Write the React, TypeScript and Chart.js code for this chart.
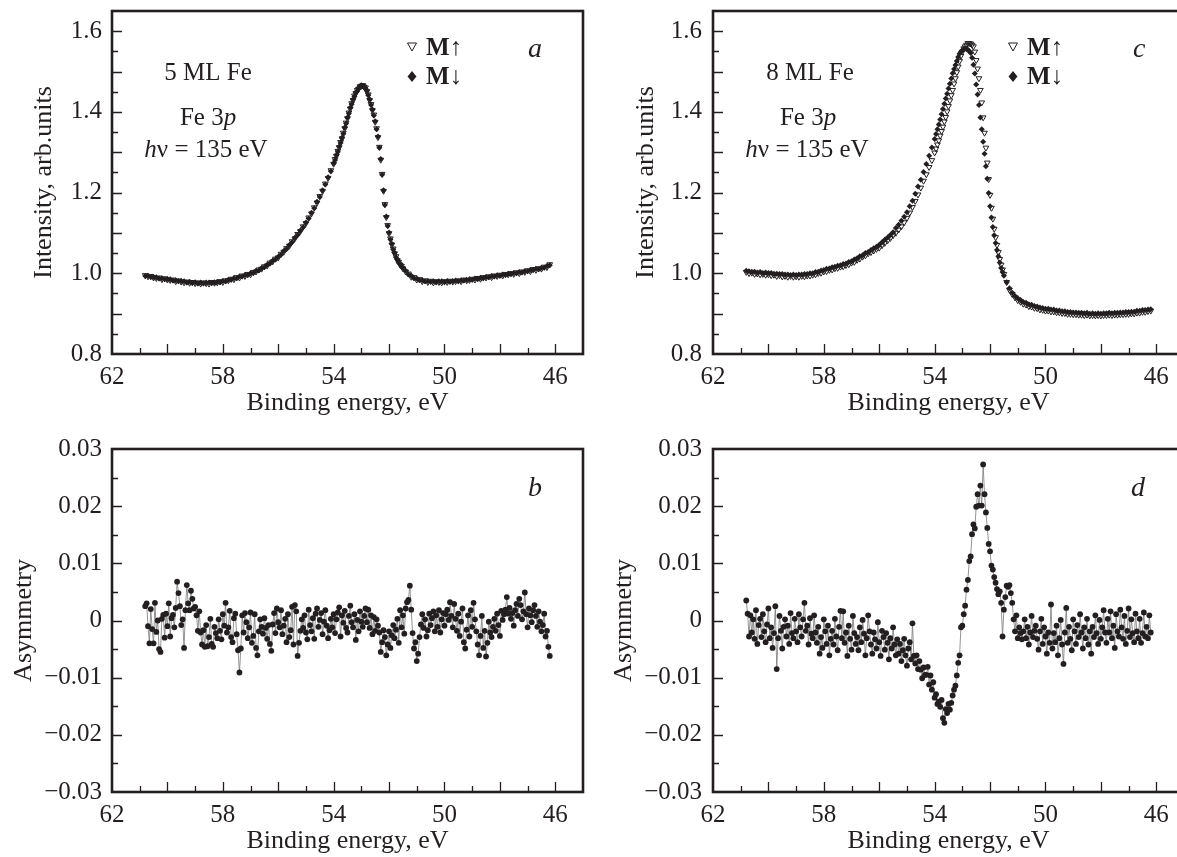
import { useEffect, useRef } from "react";
import { Chart, registerables } from "chart.js";

Chart.register(...registerables);

const INK = "#231f20";
const SERIF = '"Liberation Serif", "DejaVu Serif", serif';

// ---------- axes / ticks ----------
const X_LABELS = [62, 58, 54, 50, 46];
const X_MAJOR = [60, 58, 56, 54, 52, 50, 48, 46];
const X_MINOR = [61, 59, 57, 55, 53, 51, 49, 47];
const INT_LABELS = [0.8, 1.0, 1.2, 1.4, 1.6];
const INT_MAJOR = [0.9, 1.0, 1.1, 1.2, 1.3, 1.4, 1.5, 1.6];
const INT_MINOR = [0.85, 0.95, 1.05, 1.15, 1.25, 1.35, 1.45, 1.55];
const ASYM_LABELS = [-0.03, -0.02, -0.01, 0, 0.01, 0.02, 0.03];
const ASYM_MAJOR = [-0.02, -0.01, 0, 0.01, 0.02];
const ASYM_MINOR = [-0.025, -0.015, -0.005, 0.005, 0.015, 0.025];

// ---------- intensity panels (a, c) ----------
const E_TOP = [
  60.8, 60.7, 60.6, 60.5, 60.4, 60.3, 60.2, 60.1, 60.0, 59.9,
  59.8, 59.7, 59.6, 59.5, 59.4, 59.3, 59.2, 59.1, 59.0, 58.9,
  58.8, 58.7, 58.6, 58.5, 58.4, 58.3, 58.2, 58.1, 58.0, 57.9,
  57.8, 57.7, 57.6, 57.5, 57.4, 57.3, 57.2, 57.1, 57.0, 56.9,
  56.8, 56.7, 56.6, 56.5, 56.4, 56.3, 56.2, 56.1, 56.0, 55.9,
  55.8, 55.7, 55.6, 55.5, 55.4, 55.3, 55.2, 55.1, 55.0, 54.9,
  54.8, 54.7, 54.6, 54.5, 54.4, 54.3, 54.2, 54.1,
  54.0, 53.95, 53.9, 53.85, 53.8, 53.75, 53.7, 53.65, 53.6, 53.55,
  53.5, 53.45, 53.4, 53.35, 53.3, 53.25, 53.2, 53.15, 53.1, 53.05,
  53.0, 52.95, 52.9, 52.85, 52.8, 52.75, 52.7, 52.65, 52.6, 52.55,
  52.5, 52.45, 52.4, 52.35, 52.3, 52.25, 52.2, 52.15, 52.1, 52.05,
  52.0, 51.95, 51.9, 51.85, 51.8, 51.75, 51.7, 51.65, 51.6, 51.55,
  51.5,
  51.4, 51.3, 51.2, 51.1, 51.0, 50.9, 50.8, 50.7, 50.6, 50.5,
  50.4, 50.3, 50.2, 50.1, 50.0, 49.9, 49.8, 49.7, 49.6, 49.5,
  49.4, 49.3, 49.2, 49.1, 49.0, 48.9, 48.8, 48.7, 48.6, 48.5,
  48.4, 48.3, 48.2, 48.1, 48.0, 47.9, 47.8, 47.7, 47.6, 47.5,
  47.4, 47.3, 47.2, 47.1, 47.0, 46.9, 46.8, 46.7, 46.6, 46.5,
  46.4, 46.3, 46.2,
];

const A_UP = [
  0.995, 0.992, 0.993, 0.989, 0.988, 0.989, 0.985, 0.987, 0.984, 0.983,
  0.984, 0.980, 0.982, 0.979, 0.977, 0.979, 0.976, 0.978, 0.975, 0.977,
  0.974, 0.977, 0.975, 0.974, 0.978, 0.976, 0.977, 0.980, 0.978, 0.982,
  0.982, 0.986, 0.985, 0.990, 0.989, 0.994, 0.993, 0.998, 0.997, 1.003,
  1.004, 1.009, 1.011, 1.017, 1.019, 1.026, 1.029, 1.036, 1.039, 1.048,
  1.053, 1.062, 1.068, 1.079, 1.086, 1.097, 1.104, 1.116, 1.124, 1.138,
  1.148, 1.163, 1.175, 1.191, 1.204, 1.222, 1.236, 1.255,
  1.271, 1.283, 1.291, 1.303, 1.312, 1.325, 1.334, 1.348, 1.359, 1.373,
  1.384, 1.398, 1.408, 1.421, 1.429, 1.440, 1.446, 1.454, 1.457, 1.463,
  1.464, 1.466, 1.462, 1.460, 1.451, 1.443, 1.429, 1.419, 1.404, 1.393,
  1.375, 1.359, 1.337, 1.313, 1.281, 1.246, 1.204, 1.171, 1.139, 1.119,
  1.099, 1.086, 1.071, 1.061, 1.049, 1.042, 1.032, 1.028, 1.021, 1.018,
  1.012,
  1.004, 0.999, 0.991, 0.990, 0.984, 0.985, 0.980, 0.982, 0.978, 0.981,
  0.977, 0.980, 0.978, 0.977, 0.980, 0.978, 0.981, 0.979, 0.980, 0.982,
  0.980, 0.984, 0.982, 0.983, 0.986, 0.984, 0.988, 0.986, 0.990, 0.989,
  0.992, 0.990, 0.994, 0.993, 0.996, 0.994, 0.998, 0.997, 1.000, 0.998,
  1.002, 1.000, 1.004, 1.003, 1.007, 1.005, 1.010, 1.008, 1.012, 1.011,
  1.016, 1.015, 1.022,
];

const A_DN = [
  0.993, 0.994, 0.991, 0.991, 0.990, 0.987, 0.988, 0.985, 0.986, 0.985,
  0.982, 0.983, 0.980, 0.981, 0.980, 0.977, 0.979, 0.976, 0.978, 0.975,
  0.977, 0.975, 0.977, 0.977, 0.976, 0.978, 0.979, 0.978, 0.981, 0.980,
  0.984, 0.984, 0.988, 0.988, 0.992, 0.992, 0.996, 0.996, 1.000, 1.001,
  1.006, 1.007, 1.013, 1.015, 1.021, 1.024, 1.031, 1.034, 1.041, 1.046,
  1.055, 1.060, 1.070, 1.077, 1.088, 1.095, 1.106, 1.114, 1.126, 1.136,
  1.150, 1.161, 1.177, 1.189, 1.206, 1.220, 1.238, 1.253,
  1.273, 1.281, 1.293, 1.301, 1.314, 1.323, 1.336, 1.346, 1.361, 1.371,
  1.386, 1.396, 1.410, 1.419, 1.431, 1.438, 1.448, 1.452, 1.459, 1.461,
  1.466, 1.464, 1.464, 1.458, 1.453, 1.441, 1.431, 1.417, 1.406, 1.391,
  1.377, 1.357, 1.339, 1.311, 1.283, 1.244, 1.206, 1.169, 1.141, 1.117,
  1.101, 1.084, 1.073, 1.059, 1.051, 1.040, 1.034, 1.026, 1.023, 1.016,
  1.014,
  1.006, 0.997, 0.994, 0.988, 0.987, 0.983, 0.983, 0.980, 0.981, 0.979,
  0.980, 0.978, 0.980, 0.980, 0.978, 0.981, 0.979, 0.981, 0.982, 0.980,
  0.983, 0.982, 0.984, 0.985, 0.984, 0.987, 0.986, 0.989, 0.988, 0.991,
  0.990, 0.993, 0.992, 0.995, 0.994, 0.997, 0.996, 0.999, 0.998, 1.001,
  1.000, 1.003, 1.002, 1.005, 1.005, 1.008, 1.008, 1.011, 1.010, 1.014,
  1.014, 1.018, 1.020,
];

const C_UP = [
  1.003, 1.000, 1.001, 0.998, 0.999, 0.997, 0.998, 0.996, 0.997, 0.995,
  0.996, 0.993, 0.995, 0.992, 0.993, 0.991, 0.993, 0.991, 0.992, 0.991,
  0.993, 0.992, 0.994, 0.994, 0.996, 0.997, 1.000, 1.001, 1.004, 1.005,
  1.008, 1.009, 1.012, 1.013, 1.016, 1.017, 1.020, 1.022, 1.026, 1.028,
  1.033, 1.036, 1.041, 1.044, 1.049, 1.052, 1.056, 1.060, 1.063, 1.069,
  1.075, 1.081, 1.087, 1.094, 1.100, 1.108, 1.116, 1.126, 1.137, 1.150,
  1.164, 1.179, 1.195, 1.212, 1.229, 1.245, 1.263, 1.280,
  1.299, 1.309, 1.319, 1.329, 1.341, 1.352, 1.363, 1.376, 1.387, 1.401,
  1.414, 1.428, 1.441, 1.454, 1.470, 1.483, 1.498, 1.512, 1.526, 1.539,
  1.549, 1.557, 1.562, 1.566, 1.570, 1.570, 1.569, 1.566, 1.562, 1.549,
  1.528, 1.507, 1.483, 1.454, 1.423, 1.386, 1.348, 1.311, 1.274, 1.233,
  1.194, 1.162, 1.135, 1.110, 1.089, 1.070, 1.052, 1.035, 1.021, 1.009,
  0.998,
  0.978, 0.959, 0.948, 0.940, 0.933, 0.929, 0.924, 0.922, 0.918, 0.917,
  0.914, 0.913, 0.910, 0.909, 0.907, 0.907, 0.905, 0.905, 0.903, 0.903,
  0.901, 0.901, 0.899, 0.899, 0.898, 0.898, 0.897, 0.897, 0.896, 0.897,
  0.895, 0.896, 0.895, 0.896, 0.895, 0.896, 0.896, 0.897, 0.896, 0.897,
  0.897, 0.898, 0.898, 0.899, 0.899, 0.900, 0.900, 0.902, 0.902, 0.904,
  0.904, 0.906, 0.907,
];

const C_DN = [
  1.006, 1.005, 1.004, 1.004, 1.002, 1.003, 1.001, 1.002, 1.001, 1.001,
  0.999, 0.999, 0.998, 0.998, 0.997, 0.997, 0.996, 0.997, 0.996, 0.997,
  0.997, 0.998, 0.998, 1.000, 1.000, 1.003, 1.004, 1.007, 1.008, 1.011,
  1.012, 1.015, 1.016, 1.019, 1.020, 1.023, 1.024, 1.028, 1.030, 1.034,
  1.037, 1.042, 1.045, 1.050, 1.053, 1.058, 1.062, 1.066, 1.071, 1.077,
  1.083, 1.089, 1.095, 1.102, 1.112, 1.120, 1.130, 1.140, 1.151, 1.166,
  1.180, 1.197, 1.215, 1.232, 1.251, 1.271, 1.291, 1.312,
  1.333, 1.345, 1.357, 1.369, 1.381, 1.394, 1.407, 1.420, 1.433, 1.445,
  1.458, 1.470, 1.483, 1.496, 1.506, 1.516, 1.526, 1.536, 1.544, 1.549,
  1.553, 1.556, 1.557, 1.556, 1.554, 1.550, 1.546, 1.534, 1.517, 1.495,
  1.468, 1.443, 1.417, 1.386, 1.357, 1.326, 1.296, 1.265, 1.234, 1.199,
  1.166, 1.138, 1.115, 1.094, 1.075, 1.058, 1.042, 1.027, 1.013, 1.003,
  0.994,
  0.978, 0.963, 0.952, 0.944, 0.938, 0.934, 0.929, 0.927, 0.923, 0.922,
  0.919, 0.918, 0.915, 0.914, 0.912, 0.912, 0.910, 0.910, 0.908, 0.908,
  0.906, 0.906, 0.904, 0.904, 0.903, 0.903, 0.902, 0.902, 0.901, 0.902,
  0.900, 0.901, 0.900, 0.901, 0.900, 0.901, 0.901, 0.902, 0.901, 0.902,
  0.902, 0.903, 0.903, 0.904, 0.904, 0.905, 0.905, 0.907, 0.907, 0.909,
  0.909, 0.910, 0.911,
];

// ---------- asymmetry panels (b, d) ----------
const E_ASYM = [
  60.8, 60.75, 60.7, 60.65, 60.6, 60.55, 60.5, 60.45, 60.4, 60.35,
  60.3, 60.25, 60.2, 60.15, 60.1, 60.05, 60.0, 59.95, 59.9, 59.85,
  59.8, 59.75, 59.7, 59.65, 59.6, 59.55, 59.5, 59.45, 59.4, 59.35,
  59.3, 59.25, 59.2, 59.15, 59.1, 59.05, 59.0, 58.95, 58.9, 58.85,
  58.8, 58.75, 58.7, 58.65, 58.6, 58.55, 58.5, 58.45, 58.4, 58.35,
  58.3, 58.25, 58.2, 58.15, 58.1, 58.05, 58.0, 57.95, 57.9, 57.85,
  57.8, 57.75, 57.7, 57.65, 57.6, 57.55, 57.5, 57.45, 57.4, 57.35,
  57.3, 57.25, 57.2, 57.15, 57.1, 57.05, 57.0, 56.95, 56.9, 56.85,
  56.8, 56.75, 56.7, 56.65, 56.6, 56.55, 56.5, 56.45, 56.4, 56.35,
  56.3, 56.25, 56.2, 56.15, 56.1, 56.05, 56.0, 55.95, 55.9, 55.85,
  55.8, 55.75, 55.7, 55.65, 55.6, 55.55, 55.5, 55.45, 55.4, 55.35,
  55.3, 55.25, 55.2, 55.15, 55.1, 55.05, 55.0, 54.95, 54.9, 54.85,
  54.8, 54.75, 54.7, 54.65, 54.6, 54.55, 54.5, 54.45, 54.4, 54.35,
  54.3, 54.25, 54.2, 54.15, 54.1, 54.05, 54.0, 53.95, 53.9, 53.85,
  53.8, 53.75, 53.7, 53.65, 53.6, 53.55, 53.5, 53.45, 53.4, 53.35,
  53.3, 53.25, 53.2, 53.15, 53.1, 53.05, 53.0, 52.95, 52.9, 52.85,
  52.8, 52.75, 52.7, 52.65, 52.6, 52.55, 52.5, 52.45, 52.4, 52.35,
  52.3, 52.25, 52.2, 52.15, 52.1, 52.05, 52.0, 51.95, 51.9, 51.85,
  51.8, 51.75, 51.7, 51.65, 51.6, 51.55, 51.5, 51.45, 51.4, 51.35,
  51.3, 51.25, 51.2, 51.15, 51.1, 51.05, 51.0, 50.95, 50.9, 50.85,
  50.8, 50.75, 50.7, 50.65, 50.6, 50.55, 50.5, 50.45, 50.4, 50.35,
  50.3, 50.25, 50.2, 50.15, 50.1, 50.05, 50.0, 49.95, 49.9, 49.85,
  49.8, 49.75, 49.7, 49.65, 49.6, 49.55, 49.5, 49.45, 49.4, 49.35,
  49.3, 49.25, 49.2, 49.15, 49.1, 49.05, 49.0, 48.95, 48.9, 48.85,
  48.8, 48.75, 48.7, 48.65, 48.6, 48.55, 48.5, 48.45, 48.4, 48.35,
  48.3, 48.25, 48.2, 48.15, 48.1, 48.05, 48.0, 47.95, 47.9, 47.85,
  47.8, 47.75, 47.7, 47.65, 47.6, 47.55, 47.5, 47.45, 47.4, 47.35,
  47.3, 47.25, 47.2, 47.15, 47.1, 47.05, 47.0, 46.95, 46.9, 46.85,
  46.8, 46.75, 46.7, 46.65, 46.6, 46.55, 46.5, 46.45, 46.4, 46.35,
  46.3, 46.25, 46.2,
];

const B_ASYM = [
  0.0025, 0.003, -0.001, -0.004, 0.002, -0.0015, -0.004, 0.0031, -0.002, 0.0,
  -0.005, -0.0055, 0.0003, 0.001, -0.003, 0.0012, -0.001, 0.003, -0.0028, 0.0004,
  0.001, -0.0012, 0.0022, 0.0068, 0.0048, 0.0025, -0.0008, 0.0002, -0.0048, 0.0018,
  0.0062, 0.003, 0.0018, 0.0052, 0.0038, 0.0021, 0.0024, 0.0009, -0.0018, 0.0016,
  -0.0021, -0.0042, -0.0017, -0.0046, -0.0008, -0.0045, -0.0029, 0.0003, -0.0041, -0.0046,
  -0.0011, -0.0022, -0.0031, 0.0002, -0.0018, -0.0033, 0.0011, -0.0009, 0.0031, -0.0021,
  -0.0012, 0.0017, -0.0029, -0.0038, 0.0004, 0.0012, -0.0024, -0.0052, -0.0091, -0.0049,
  0.0009, -0.0021, 0.0013, -0.0003, -0.0031, -0.0012, 0.0014, -0.0039, -0.0027, 0.0011,
  -0.0048, -0.0061, -0.0019, 0.0002, -0.0011, -0.0023, 0.0004, -0.0013, -0.0032, -0.0008,
  -0.0041, -0.0053, -0.0007, 0.0013, -0.0022, 0.0021, -0.0003, -0.0012, 0.0018, -0.0024,
  -0.0009, 0.0003, -0.0038, 0.0011, -0.0029, -0.0017, 0.0024, -0.0042, 0.0027, 0.0016,
  -0.0062, -0.0039, -0.0018, 0.0002, -0.0013, 0.0009, -0.0021, -0.0033, 0.0019, -0.0008,
  -0.0019, 0.0004, -0.0032, 0.0012, 0.0021, -0.0011, 0.0001, 0.0013, -0.0024, -0.0002,
  0.0018, -0.0009, -0.0031, -0.0017, 0.0003, -0.0012, 0.0011, -0.0022, 0.0002, 0.0014,
  0.0023, -0.0028, 0.0009, -0.0004, 0.0017, -0.0013, -0.0021, 0.0008, 0.0026, -0.0003,
  -0.0012, 0.0011, -0.0034, 0.0001, -0.0019, 0.0016, -0.0002, -0.0011, 0.0008, 0.0021,
  -0.0003, 0.0019, -0.0013, 0.0009, -0.0024, 0.0006, -0.0018, 0.0002, -0.0009, -0.0021,
  -0.0055, -0.0038, -0.0017, -0.0029, -0.0061, -0.0042, -0.0019, -0.0048, -0.0026, -0.0008,
  -0.0031, -0.0016, 0.0003, -0.0039, 0.0018, -0.0012, 0.0009, -0.0023, 0.0021, 0.0032,
  0.0036, 0.0061, 0.0019, -0.0022, -0.0049, -0.0038, -0.0071, -0.0058, -0.0029, -0.0007,
  0.0011, -0.0013, 0.0002, -0.0028, -0.0017, 0.0012, -0.0008, 0.0004, 0.0016, -0.0019,
  0.0009, -0.0011, 0.0018, -0.0021, 0.0002, 0.0013, -0.0009, 0.0011, 0.0019, 0.0001,
  0.0032, 0.0008, -0.0012, 0.0029, 0.0003, -0.0018, 0.0012, -0.0027, -0.0002, 0.0021,
  -0.0038, -0.0049, -0.0016, 0.0009, -0.0028, 0.0018, -0.0011, 0.0031, 0.0002, -0.0019,
  -0.0042, -0.0061, -0.0027, 0.0008, -0.0048, -0.0018, -0.0063, -0.0039, -0.0002, -0.0021,
  -0.0029, -0.0011, 0.0003, -0.0018, 0.0012, -0.0008, -0.0027, 0.0017, 0.0001, 0.0011,
  0.0019, 0.0041, 0.0012, 0.0022, 0.0003, 0.0013, -0.0009, 0.0018, 0.0029, 0.0008,
  0.0038, 0.0027, 0.0002, 0.0016, 0.0049, 0.0011, -0.0012, 0.0021, 0.0009, -0.0003,
  0.0018, 0.0027, 0.0008, -0.0011, 0.0016, -0.0002, -0.0019, -0.0008, 0.0012, -0.0028,
  -0.0018, -0.0046, -0.0062,
];

const D_ASYM = [
  0.0035, 0.0012, -0.0028, 0.0009, -0.0021, 0.0002, -0.0032, 0.0018, -0.0041, -0.0008,
  0.0003, -0.0029, 0.0011, -0.0019, -0.0038, -0.0007, 0.0021, -0.0031, -0.0012, -0.0048,
  -0.0022, 0.0025, -0.0085, -0.0031, 0.0008, -0.0018, -0.0049, -0.0011, 0.0002, -0.0028,
  -0.0009, -0.0041, 0.0013, -0.0022, -0.0031, 0.0003, -0.0019, -0.0038, 0.0011, -0.0012,
  -0.0028, 0.0002, 0.0031, -0.0018, -0.0009, -0.0042, 0.0004, -0.0023, -0.0031, 0.0009,
  -0.0021, -0.0039, -0.0011, -0.0058, -0.0029, -0.0048, 0.0002, -0.0019, -0.0041, -0.0009,
  -0.0061, -0.0032, -0.0018, -0.0042, 0.0003, -0.0028, -0.0052, -0.0011, 0.0017, -0.0031,
  0.0016, -0.0039, -0.0021, -0.0062, -0.0009, -0.0032, -0.0051, 0.0008, -0.0022, -0.0041,
  -0.0029, -0.0052, -0.0012, -0.0038, 0.0001, -0.0023, -0.0061, -0.0031, 0.0009, -0.0019,
  -0.0042, -0.0058, -0.0021, -0.0033, -0.0049, -0.0003, -0.0038, -0.0062, -0.0018, -0.0029,
  -0.0051, -0.0022, -0.0039, -0.0068, -0.0031, -0.0049, -0.0012, -0.0042, -0.0061, -0.0033,
  -0.0058, -0.0041, -0.0071, -0.0052, -0.0032, -0.0061, -0.0079, -0.0049, -0.0038, -0.0068,
  -0.0005, -0.0062, -0.0075, -0.0061, -0.0085, -0.0071, -0.0086, -0.0101, -0.0082, -0.0095,
  -0.0095, -0.0081, -0.0112, -0.0096, -0.0121, -0.0108, -0.0135, -0.0129, -0.0146, -0.0142,
  -0.0151, -0.0139, -0.0171, -0.0179, -0.0155, -0.0162, -0.0146, -0.0156, -0.0144, -0.0131,
  -0.0121, -0.0114, -0.0096, -0.0074, -0.0061, -0.0012, -0.0009, 0.0011, 0.0026, 0.0054,
  0.0071, 0.0104, 0.0112, 0.0151, 0.0168, 0.0161, 0.0199, 0.0221, 0.0201, 0.0236,
  0.0201, 0.0273, 0.0221, 0.0189, 0.0162, 0.0134, 0.0121, 0.0096, 0.0089, 0.0076,
  0.0066, 0.0055, 0.0046, 0.0051, 0.0031, -0.0028, 0.0019, 0.0041, 0.0061, 0.0059,
  0.0062, 0.0048, 0.0031, 0.0002, -0.0019, 0.0009, -0.0031, -0.0012, -0.0022, -0.0033,
  -0.0019, 0.0002, -0.0031, -0.0011, -0.0042, -0.0021, 0.0008, -0.0029, -0.0018, -0.0009,
  -0.0032, -0.0051, -0.0019, 0.0003, -0.0041, -0.0012, -0.0028, -0.0058, -0.0021, -0.0039,
  0.0028, -0.0049, -0.0022, -0.0038, -0.0009, -0.0061, -0.0031, 0.0001, -0.0042, -0.0076,
  -0.0021, 0.0022, -0.0039, -0.0011, -0.0032, -0.0052, 0.0002, -0.0019, -0.0041, -0.0008,
  -0.0029, 0.0011, -0.0021, -0.0049, -0.0012, -0.0031, 0.0003, -0.0042, -0.0019, -0.0058,
  -0.0011, -0.0029, 0.0009, -0.0022, -0.0041, 0.0001, -0.0032, -0.0012, 0.0018, -0.0021,
  -0.0039, 0.0003, -0.0021, 0.0016, -0.0031, -0.0009, -0.0048, 0.0011, -0.0019, -0.0028,
  0.0019, -0.0012, -0.0032, 0.0008, -0.0041, -0.0018, 0.0021, -0.0029, 0.0002, -0.0022,
  -0.0038, 0.0012, -0.0019, -0.0031, 0.0003, -0.0039, -0.0022, 0.0014, -0.0028, -0.0011,
  -0.0031, 0.0009, -0.0021,
];

// ---------- text ----------
const X_TITLE = "Binding energy, eV";
const Y_TITLE_TOP = "Intensity, arb.units";
const Y_TITLE_BOTTOM = "Asymmetry";
const LEGEND_UP = "M";
const ARROW_UP = "\u2191";
const ARROW_DN = "\u2193";

const F_REG = `25px ${SERIF}`;
const F_IT = `italic 25px ${SERIF}`;
const F_BOLD = `bold 25px ${SERIF}`;
const F_LETTER = `italic 28px ${SERIF}`;

type Run = [string, string];

function drawRuns(ctx: CanvasRenderingContext2D, runs: Run[], x: number, y: number, center: boolean) {
  let total = 0;
  for (const [t, f] of runs) {
    ctx.font = f;
    total += ctx.measureText(t).width;
  }
  let cx = center ? x - total / 2 : x;
  ctx.textAlign = "left";
  ctx.textBaseline = "alphabetic";
  ctx.fillStyle = INK;
  for (const [t, f] of runs) {
    ctx.font = f;
    ctx.fillText(t, cx, y);
    cx += ctx.measureText(t).width;
  }
}

function drawLegend(ctx: CanvasRenderingContext2D, mx: number, tx: number) {
  ctx.save();
  ctx.strokeStyle = INK;
  ctx.fillStyle = INK;
  ctx.lineWidth = 1;
  ctx.beginPath();
  ctx.moveTo(mx - 4.5, 43);
  ctx.lineTo(mx + 4.5, 43);
  ctx.lineTo(mx, 51);
  ctx.closePath();
  ctx.stroke();
  ctx.beginPath();
  ctx.moveTo(mx, 71);
  ctx.lineTo(mx + 4.5, 76.5);
  ctx.lineTo(mx, 82);
  ctx.lineTo(mx - 4.5, 76.5);
  ctx.closePath();
  ctx.fill();
  ctx.restore();
  drawRuns(ctx, [[LEGEND_UP, F_BOLD], [ARROW_UP, F_REG]], tx, 55, false);
  drawRuns(ctx, [[LEGEND_UP, F_BOLD], [ARROW_DN, F_REG]], tx, 84, false);
}

type PanelCfg = {
  key: string;
  left: number;
  top: number;
  width: number;
  height: number;
  padTop: number;
  padRight: number;
  yWidth: number;
  yTitlePad: number;
  yLabelPad: number;
  yMin: number;
  yMax: number;
  yLabels: number[];
  yMajor: number[];
  yMinor: number[];
  yTitle: string;
  fmt: (v: number) => string;
  datasets: any[];
  annotate: (ctx: CanvasRenderingContext2D) => void;
};

const fmtInt = (v: number) => v.toFixed(1);
const fmtAsym = (v: number) =>
  Math.abs(v) < 1e-9 ? "0" : (v < 0 ? "\u2212" : "") + Math.abs(v).toFixed(2);

const pts = (xs: number[], ys: number[]) => xs.map((x, i) => ({ x, y: ys[i] }));

const upSet = (ys: number[]) => ({
  data: pts(E_TOP, ys),
  showLine: false,
  pointStyle: "triangle",
  pointRotation: 180,
  pointRadius: 3.3,
  pointBorderWidth: 1,
  pointBorderColor: INK,
  pointBackgroundColor: "rgba(255,255,255,0)",
});
const dnSet = (ys: number[]) => ({
  data: pts(E_TOP, ys),
  showLine: false,
  pointStyle: "rectRot",
  pointRadius: 3.0,
  pointBorderWidth: 0,
  pointBackgroundColor: INK,
});
const asymSet = (ys: number[]) => ({
  data: pts(E_ASYM, ys),
  showLine: true,
  borderColor: "#7a7a7a",
  borderWidth: 0.8,
  pointStyle: "circle",
  pointRadius: 2.9,
  pointBorderWidth: 0,
  pointBackgroundColor: INK,
});

const PANELS: PanelCfg[] = [
  {
    key: "a", left: 0, top: 0, width: 590, height: 419, padTop: 11, padRight: 7,
    yWidth: 112, yTitlePad: 29, yLabelPad: 10, yMin: 0.8, yMax: 1.65,
    yLabels: INT_LABELS, yMajor: INT_MAJOR, yMinor: INT_MINOR, yTitle: Y_TITLE_TOP, fmt: fmtInt,
    datasets: [upSet(A_UP), dnSet(A_DN)],
    annotate: (ctx) => {
      drawRuns(ctx, [["5 ML Fe", F_REG]], 208, 80, true);
      drawRuns(ctx, [["Fe 3", F_REG], ["p", F_IT]], 208, 125, true);
      drawRuns(ctx, [["h", F_IT], ["\u03bd = 135 eV", F_REG]], 206, 157, true);
      drawLegend(ctx, 412, 426);
      drawRuns(ctx, [["a", F_LETTER]], 528, 57, false);
    },
  },
  {
    key: "c", left: 590, top: 0, width: 600, height: 419, padTop: 11, padRight: 6,
    yWidth: 123, yTitlePad: 41, yLabelPad: 11, yMin: 0.8, yMax: 1.65,
    yLabels: INT_LABELS, yMajor: INT_MAJOR, yMinor: INT_MINOR, yTitle: Y_TITLE_TOP, fmt: fmtInt,
    datasets: [upSet(C_UP), dnSet(C_DN)],
    annotate: (ctx) => {
      drawRuns(ctx, [["8 ML Fe", F_REG]], 220, 80, true);
      drawRuns(ctx, [["Fe 3", F_REG], ["p", F_IT]], 218, 125, true);
      drawRuns(ctx, [["h", F_IT], ["\u03bd = 135 eV", F_REG]], 217, 157, true);
      drawLegend(ctx, 423, 437);
      drawRuns(ctx, [["c", F_LETTER]], 543, 57, false);
    },
  },
  {
    key: "b", left: 0, top: 420, width: 590, height: 437, padTop: 29, padRight: 7,
    yWidth: 112, yTitlePad: 9, yLabelPad: 10, yMin: -0.03, yMax: 0.03,
    yLabels: ASYM_LABELS, yMajor: ASYM_MAJOR, yMinor: ASYM_MINOR, yTitle: Y_TITLE_BOTTOM, fmt: fmtAsym,
    datasets: [asymSet(B_ASYM)],
    annotate: (ctx) => {
      drawRuns(ctx, [["b", F_LETTER]], 528, 76, false);
    },
  },
  {
    key: "d", left: 590, top: 420, width: 600, height: 437, padTop: 29, padRight: 6,
    yWidth: 123, yTitlePad: 19, yLabelPad: 11, yMin: -0.03, yMax: 0.03,
    yLabels: ASYM_LABELS, yMajor: ASYM_MAJOR, yMinor: ASYM_MINOR, yTitle: Y_TITLE_BOTTOM, fmt: fmtAsym,
    datasets: [asymSet(D_ASYM)],
    annotate: (ctx) => {
      drawRuns(ctx, [["d", F_LETTER]], 541, 76, false);
    },
  },
];

function buildConfig(p: PanelCfg): any {
  const framePlugin = {
    id: "frame_" + p.key,
    afterDraw(chart: any) {
      const { ctx, chartArea } = chart;
      const { left, right, top, bottom } = chartArea;
      const xs = chart.scales.x;
      const ys = chart.scales.y;
      ctx.save();
      ctx.strokeStyle = INK;
      ctx.lineWidth = 1.3;
      ctx.beginPath();
      const xTick = (vals: number[], len: number) => {
        for (const v of vals) {
          const px = Math.round(xs.getPixelForValue(v)) + 0.5;
          ctx.moveTo(px, bottom);
          ctx.lineTo(px, bottom - len);
        }
      };
      const yTick = (vals: number[], len: number) => {
        for (const v of vals) {
          const py = Math.round(ys.getPixelForValue(v)) + 0.5;
          ctx.moveTo(left, py);
          ctx.lineTo(left + len, py);
        }
      };
      xTick(X_MAJOR, 10);
      xTick(X_MINOR, 6);
      yTick(p.yMajor, 10);
      yTick(p.yMinor, 6);
      ctx.stroke();
      ctx.lineWidth = 2.6;
      ctx.strokeRect(left, top, right - left, bottom - top);
      ctx.restore();
      ctx.save();
      p.annotate(ctx);
      ctx.restore();
    },
  };

  return {
    type: "scatter",
    data: { datasets: p.datasets },
    options: {
      animation: false,
      responsive: false,
      maintainAspectRatio: false,
      devicePixelRatio: 1,
      events: [],
      layout: { padding: { top: p.padTop, right: p.padRight, bottom: 0, left: 0 } },
      plugins: { legend: { display: false }, tooltip: { enabled: false }, title: { display: false } },
      scales: {
        x: {
          type: "linear",
          min: 45,
          max: 62,
          reverse: true,
          afterBuildTicks: (s: any) => {
            s.ticks = X_LABELS.map((v) => ({ value: v }));
          },
          afterFit: (s: any) => {
            s.height = 65;
            s.paddingLeft = 0;
            s.paddingRight = 0;
          },
          grid: { display: false, drawTicks: false },
          border: { display: false },
          ticks: {
            font: { family: SERIF, size: 25 },
            color: INK,
            padding: 8,
            maxRotation: 0,
            minRotation: 0,
            autoSkip: false,
            callback: (v: any) => String(v),
          },
          title: {
            display: true,
            text: X_TITLE,
            font: { family: SERIF, size: 26 },
            color: INK,
            padding: { top: 0, bottom: 0 },
          },
        },
        y: {
          type: "linear",
          min: p.yMin,
          max: p.yMax,
          afterBuildTicks: (s: any) => {
            s.ticks = p.yLabels.map((v) => ({ value: v }));
          },
          afterFit: (s: any) => {
            s.width = p.yWidth;
            s.paddingTop = 0;
            s.paddingBottom = 0;
          },
          grid: { display: false, drawTicks: false },
          border: { display: false },
          ticks: {
            font: { family: SERIF, size: 25 },
            color: INK,
            padding: p.yLabelPad,
            autoSkip: false,
            callback: (v: any) => p.fmt(Number(v)),
          },
          title: {
            display: true,
            text: p.yTitle,
            font: { family: SERIF, size: 26 },
            color: INK,
            padding: { top: p.yTitlePad, bottom: 0 },
          },
        },
      },
    },
    plugins: [framePlugin],
  };
}

function Panel({ p }: { p: PanelCfg }) {
  const ref = useRef<HTMLCanvasElement | null>(null);
  useEffect(() => {
    if (!ref.current) return;
    const chart = new Chart(ref.current, buildConfig(p));
    return () => chart.destroy();
  }, [p]);
  return (
    <canvas
      ref={ref}
      width={p.width}
      height={p.height}
      style={{ position: "absolute", left: p.left, top: p.top, width: p.width, height: p.height }}
    />
  );
}

export default function App() {
  return (
    <div
      style={{
        position: "absolute",
        left: 0,
        top: 0,
        width: 1177,
        height: 857,
        overflow: "hidden",
        background: "#ffffff",
      }}
    >
      {PANELS.map((p) => (
        <Panel key={p.key} p={p} />
      ))}
    </div>
  );
}
